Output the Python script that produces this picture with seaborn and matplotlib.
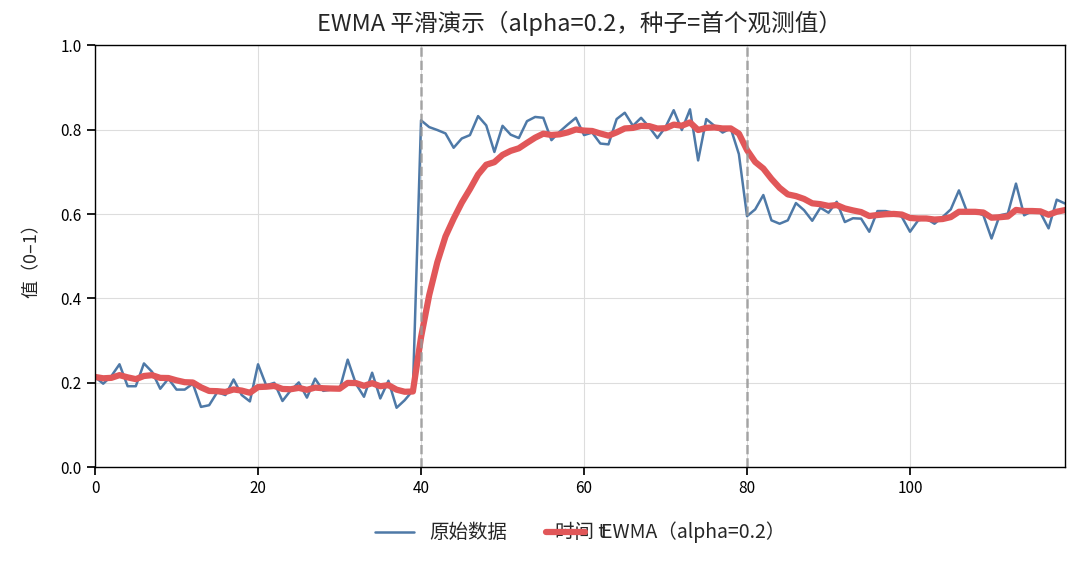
import numpy as np
import pandas as pd
import seaborn as sns
import matplotlib.pyplot as plt

seg_low = [0.214, 0.198, 0.216, 0.244, 0.192, 0.192, 0.246, 0.226, 0.186, 0.210,
           0.184, 0.184, 0.198, 0.143, 0.147, 0.178, 0.171, 0.208, 0.171, 0.156,
           0.244, 0.194, 0.200, 0.157, 0.182, 0.201, 0.165, 0.210, 0.181, 0.184,
           0.184, 0.255, 0.198, 0.167, 0.224, 0.163, 0.205, 0.141, 0.159, 0.182]
seg_high = [0.822, 0.806, 0.799, 0.791, 0.757, 0.779, 0.787, 0.832, 0.810, 0.747,
            0.809, 0.788, 0.780, 0.820, 0.830, 0.828, 0.775, 0.795, 0.812, 0.828,
            0.787, 0.793, 0.767, 0.765, 0.825, 0.840, 0.809, 0.828, 0.806, 0.780,
            0.806, 0.846, 0.799, 0.848, 0.727, 0.825, 0.809, 0.793, 0.803, 0.742]
seg_mid = [0.595, 0.611, 0.645, 0.585, 0.577, 0.585, 0.626, 0.609, 0.584, 0.615,
           0.603, 0.629, 0.581, 0.590, 0.589, 0.558, 0.607, 0.607, 0.603, 0.593,
           0.558, 0.585, 0.589, 0.577, 0.593, 0.611, 0.656, 0.605, 0.605, 0.597,
           0.542, 0.597, 0.601, 0.672, 0.597, 0.607, 0.603, 0.566, 0.634, 0.625]
change_points = [40, 80]
alpha = 0.2

raw = seg_low + seg_high + seg_mid
t = np.arange(len(raw))
df = pd.DataFrame({"t": t, "raw": raw})
# EWMA seeded with the first observation
df["ewma"] = df["raw"].ewm(alpha=alpha, adjust=False).mean()

sns.set_theme(style="ticks")
plt.rcParams["font.family"] = ["Noto Sans CJK SC", "DejaVu Sans"]
plt.rcParams["axes.unicode_minus"] = False

fig, ax = plt.subplots(figsize=(10.8, 5.65), dpi=100)
fig.subplots_adjust(left=0.088, right=0.986, top=0.920, bottom=0.173)

sns.lineplot(data=df, x="t", y="raw", ax=ax, color="#4E79A7", linewidth=1.8,
             label="原始数据")
sns.lineplot(data=df, x="t", y="ewma", ax=ax, color="#E15759", linewidth=4.5,
             label=f"EWMA（alpha={alpha}）")
for cp in change_points:
    ax.axvline(cp, color="#999999", linestyle="--", linewidth=1.8, alpha=0.85)

ax.set_xlim(0, len(raw) - 1)
ax.set_ylim(0, 1)
ax.set_yticks(np.arange(0, 1.01, 0.2))
ax.grid(True, color="#dddddd", linewidth=0.8)
for s in ax.spines.values():
    s.set_color("black")
    s.set_linewidth(1.0)
ax.tick_params(colors="black", labelsize=11)

ax.set_title(f"EWMA 平滑演示（alpha={alpha}，种子=首个观测值）", fontsize=17, pad=10)
ax.set_xlabel("时间 t", fontsize=14)
ax.xaxis.set_label_coords(0.5, -0.13)
ax.set_ylabel("值（0–1）", fontsize=13, labelpad=14)
ax.legend(loc="center", bbox_to_anchor=(0.5, -0.155), ncol=2, frameon=False,
          fontsize=14, handlelength=2.0, columnspacing=2.0)

fig.savefig("out.png", dpi=100)
